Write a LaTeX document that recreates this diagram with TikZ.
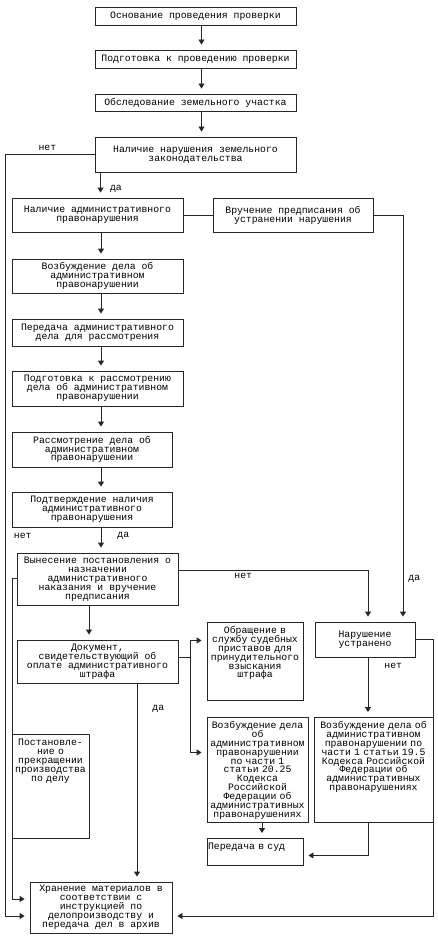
\documentclass[tikz,border=0pt]{standalone}
\usepackage{fontspec}
\usepackage{tikz}
\usetikzlibrary{arrows.meta}
\newfontfamily\schemefont{Liberation Mono}
\newcommand{\schemesize}{\schemefont\fontsize{9.8}{8.9}\selectfont\lineskiplimit=-10pt}

\begin{document}
\begin{tikzpicture}[x=1pt, y=-1pt,
  box/.style={draw=black!85, line width=0.9pt, rectangle, align=center, inner xsep=1pt, inner ysep=1pt, font=\schemesize},
  tbox/.style={box, anchor=north, inner ysep=4pt, text height=7pt, text depth=#1},
  arr/.style={draw=black!85, line width=0.9pt, -{Triangle[length=5pt,width=6pt]}, shorten >=5pt},
  line/.style={draw=black!85, line width=0.9pt},
  lbl/.style={font=\schemesize, inner sep=1pt}]
\path[fill=white] (0,0) rectangle (438,939);
\useasboundingbox (0,0) rectangle (438,939);

\node (osn) at (195.5,16) [box, minimum width=201, minimum height=18] {Основание проведения проверки};
\node (podg) at (195.5,59) [box, minimum width=201, minimum height=18] {Подготовка к проведению проверки};
\node (obsl) at (195.5,102.5) [box, minimum width=201, minimum height=17] {Обследование земельного участка};
\node (narush) at (195.5,154.5) [box, minimum width=201, minimum height=35] {Наличие нарушения земельного\\законодательства};

\node (adm) at (97.5,215) [box, minimum width=171, minimum height=34] {Наличие административного\\правонарушения};
\node (vruch) at (293,215) [box, minimum width=160, minimum height=34] {Вручение предписания об\\устранении нарушения};
\node (vozb) at (97.5,276) [box, minimum width=171, minimum height=34] {Возбуждение дела об\\административном\\правонарушении};
\node (pered) at (97.5,332.5) [box, minimum width=171, minimum height=27] {Передача административного\\дела для рассмотрения};
\node (podgr) at (97.5,388.5) [box, minimum width=171, minimum height=35] {Подготовка к рассмотрению\\дела об административном\\правонарушении};
\node (rassm) at (92,449.5) [box, minimum width=160, minimum height=35] {Рассмотрение дела об\\административном\\правонарушении};
\node (podtv) at (92,509.5) [box, minimum width=160, minimum height=35] {Подтверждение наличия\\административного\\правонарушения};
\node (vynes) at (97.5,579) [box, minimum width=161, minimum height=52] {Вынесение постановления о\\назначении\\административного\\наказания и вручение\\предписания};
\node (dok) at (97.5,661.5) [box, minimum width=161, minimum height=43] {Документ,\\свидетельствующий об\\оплате административного\\штрафа};

\node (ustr) at (365,639.5) [box, minimum width=100, minimum height=35] {Нарушение\\устранено};
\node (obr) at (255,622) [tbox=63pt, text width=94pt] {Обращение в\\службу судебных\\приставов для\\принудительного\\взыскания\\штрафа};
\node (vozb2025) at (257.5,717) [tbox=90pt, text width=99pt] {Возбуждение дела\\об\\административном\\правонарушении\\по части 1\\статьи 20.25\\Кодекса\\Российской\\Федерации об\\административных\\правонарушениях};
\node (vozb195) at (373.5,717) [tbox=90pt, text width=117pt] {Возбуждение дела об\\административном\\правонарушении по\\части 1 статьи 19.5\\Кодекса Российской\\Федерации об\\административных\\правонарушениях};
\node (sud) at (255,838) [tbox=12pt, text width=94pt, align=left] {Передача в суд};
\node (postan) at (50.5,734) [tbox=89pt, text width=75pt] {Постановле-\\ние о\\прекращении\\производства\\по делу};
\node (hran) at (101,907.5) [box, minimum width=142, minimum height=51] {Хранение материалов в\\соответствии с\\инструкцией по\\делопроизводству и\\передача дел в архив};

% main column
\draw[arr] ([xshift=6pt]osn.south) -- ([xshift=6pt]podg.north);
\draw[arr] ([xshift=6pt]podg.south) -- ([xshift=6pt]obsl.north);
\draw[arr] ([xshift=6pt]obsl.south) -- ([xshift=6pt]narush.north);
\draw[arr] ([xshift=6pt]narush.south west) -- ([xshift=6pt]narush.south west |- adm.north) node[lbl, pos=0.65, right=8pt] {да};
\draw[arr] (narush.west) -- node[lbl, above=2pt, pos=0.53] {нет} ++(-89,0) |- ([yshift=-8.5pt]hran.west);
\draw[line] (adm) -- (vruch);
\draw[arr] (vruch.east) -| ([xshift=38pt]ustr.north) node[lbl, pos=0.947, right=4pt] {да};

\draw[arr] ([xshift=3.5pt]adm.south) -- ([xshift=3.5pt]vozb.north);
\draw[arr] ([xshift=3.5pt]vozb.south) -- ([xshift=3.5pt]pered.north);
\draw[arr] ([xshift=3.5pt]pered.south) -- ([xshift=3.5pt]podgr.north);
\draw[arr] ([xshift=3.5pt]podgr.south) -- ([xshift=3.5pt]podgr.south |- rassm.north);
\draw[arr] ([xshift=9pt]rassm.south) -- ([xshift=9pt]podtv.north);
\draw[arr] ([xshift=9pt]podtv.south) -- ([xshift=9pt]podtv.south |- vynes.north)
  node[lbl, pos=0.35, right=15pt] {да} node[lbl, pos=0.35, left=68pt] {нет};

% decision
\draw[arr] ([yshift=9pt]vynes.east) -| ([xshift=3pt]ustr.north) node[lbl, pos=0.171, below=2pt] {нет};
\draw[arr] ([xshift=-8.5pt]vynes.south) -- ([xshift=-8.5pt]dok.north);
\draw[arr] ([yshift=1pt]vynes.west) -- ++(-4,0) |- ([yshift=8.5pt]hran.west);

\coordinate (dokout) at (190,657);
\draw[line] ([yshift=4.5pt]dok.east) -- (dokout);
\draw[arr] (dokout) |- ([yshift=21pt]obr.west);
\draw[arr] (dokout) |- ([yshift=17.5pt]vozb2025.west);
\draw[arr] ([xshift=39.5pt]dok.south) -- ([xshift=39.5pt]dok.south |- hran.north) node[lbl, pos=0.13, right=14pt] {да};

\draw[arr] (ustr.east) -- ++(18,0) |- ([yshift=-8.5pt]hran.east);
\draw[arr] ([xshift=3pt]ustr.south) -- ([xshift=3pt]ustr.south |- vozb195.north) node[lbl, pos=0.15, right=15pt] {нет};
\draw[arr] ([xshift=4.5pt]vozb2025.south) -- ([xshift=4.5pt]vozb2025.south |- sud.north);
\draw[arr] ([xshift=-5.5pt]vozb195.south) |- ([yshift=-3.5pt]sud.east);

\end{tikzpicture}
\end{document}
